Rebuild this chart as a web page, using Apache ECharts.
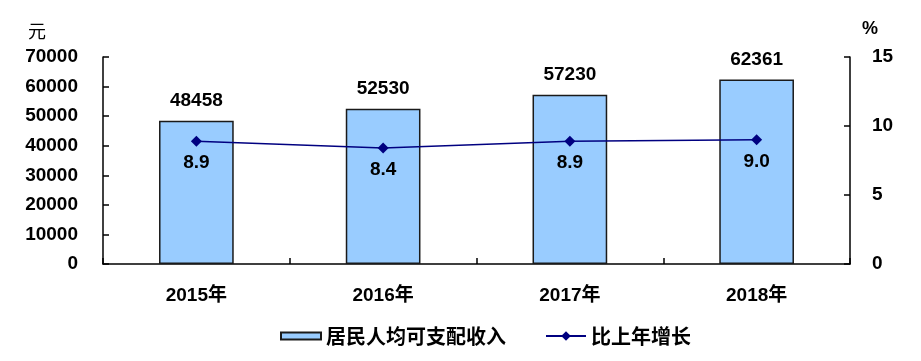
<!DOCTYPE html>
<html><head><meta charset="utf-8">
<script src="https://cdn.jsdelivr.net/npm/echarts@6/dist/echarts.min.js"></script>
<style>html,body{margin:0;padding:0;background:#fff}#c{width:921px;height:361px}</style>
</head><body><div id="c"></div>
<script>
const categories = ['2015年', '2016年', '2017年', '2018年'];
const income = [48458, 52530, 57230, 62361];
const growth = [8.9, 8.4, 8.9, 9.0];
const leftTicks = { min: 0, max: 70000, interval: 10000 };
const rightTicks = { min: 0, max: 15, interval: 5 };
const seriesNames = ['居民人均可支配收入', '比上年增长'];
const axisNames = ['元', '%'];

const FONT = '"Liberation Sans", Arial, "Noto Sans CJK SC", sans-serif';
const chart = echarts.init(document.getElementById('c'), null, { renderer: 'canvas' });
const axisBase = {
  axisLine: { show: true, lineStyle: { color: '#000', width: 1.5 } },
  axisTick: { show: true, inside: true, length: 6, lineStyle: { color: '#000', width: 1.5 } },
  splitLine: { show: false }
};
chart.setOption({
  animation: false,
  backgroundColor: '#fff',
  grid: { left: 103, right: 71, top: 57, bottom: 97, containLabel: false },
  legend: {
    left: 275, top: 321,
    itemWidth: 40, itemHeight: 12, itemGap: 39,
    textStyle: { fontFamily: '"Noto Sans CJK SC", sans-serif', fontSize: 20, fontWeight: 'bold', color: '#000' },
    data: [
      { name: seriesNames[0], icon: 'path://M0,0h40v7h-40z' },
      { name: seriesNames[1] }
    ]
  },
  xAxis: Object.assign({}, axisBase, {
    type: 'category', data: categories,
    axisTick: { show: true, inside: true, length: 6, alignWithLabel: false, lineStyle: { color: '#000', width: 1.5 } },
    axisLabel: { margin: 22, fontFamily: FONT, fontSize: 19, fontWeight: 'bold', color: '#000' }
  }),
  yAxis: [
    Object.assign({}, axisBase, {
      type: 'value', min: leftTicks.min, max: leftTicks.max, interval: leftTicks.interval,
      name: axisNames[0], nameLocation: 'end', nameGap: 17,
      nameTextStyle: { fontFamily: '"Noto Sans CJK SC", sans-serif', fontSize: 18, color: '#000', align: 'right', padding: [0, 57, 0, 0] },
      axisLabel: { margin: 25, fontFamily: FONT, fontSize: 19, fontWeight: 'bold', color: '#000', formatter: v => String(v) }
    }),
    Object.assign({}, axisBase, {
      type: 'value', position: 'right', min: rightTicks.min, max: rightTicks.max, interval: rightTicks.interval,
      name: axisNames[1], nameLocation: 'end', nameGap: 19,
      nameTextStyle: { fontFamily: FONT, fontSize: 18, fontWeight: 'bold', color: '#000', align: 'left', padding: [0, 0, 0, 12] },
      axisLabel: { margin: 22, fontFamily: FONT, fontSize: 19, fontWeight: 'bold', color: '#000', formatter: v => String(v) }
    })
  ],
  series: [
    {
      name: seriesNames[0], type: 'bar', data: income, yAxisIndex: 0,
      barWidth: '40%',
      itemStyle: { color: '#99CCFF', borderColor: '#1a1a1a', borderWidth: 1.5 },
      label: { show: true, position: 'top', distance: 10, fontFamily: FONT, fontSize: 19, fontWeight: 'bold', color: '#000' }
    },
    {
      name: seriesNames[1], type: 'line', data: growth, yAxisIndex: 1,
      symbol: 'diamond', symbolSize: 11,
      lineStyle: { color: '#000080', width: 1.5 },
      itemStyle: { color: '#000080' },
      label: { show: true, position: 'bottom', distance: 7, fontFamily: FONT, fontSize: 19, fontWeight: 'bold', color: '#000',
        formatter: p => p.value.toFixed(1) }
    }
  ]
});
</script></body></html>
